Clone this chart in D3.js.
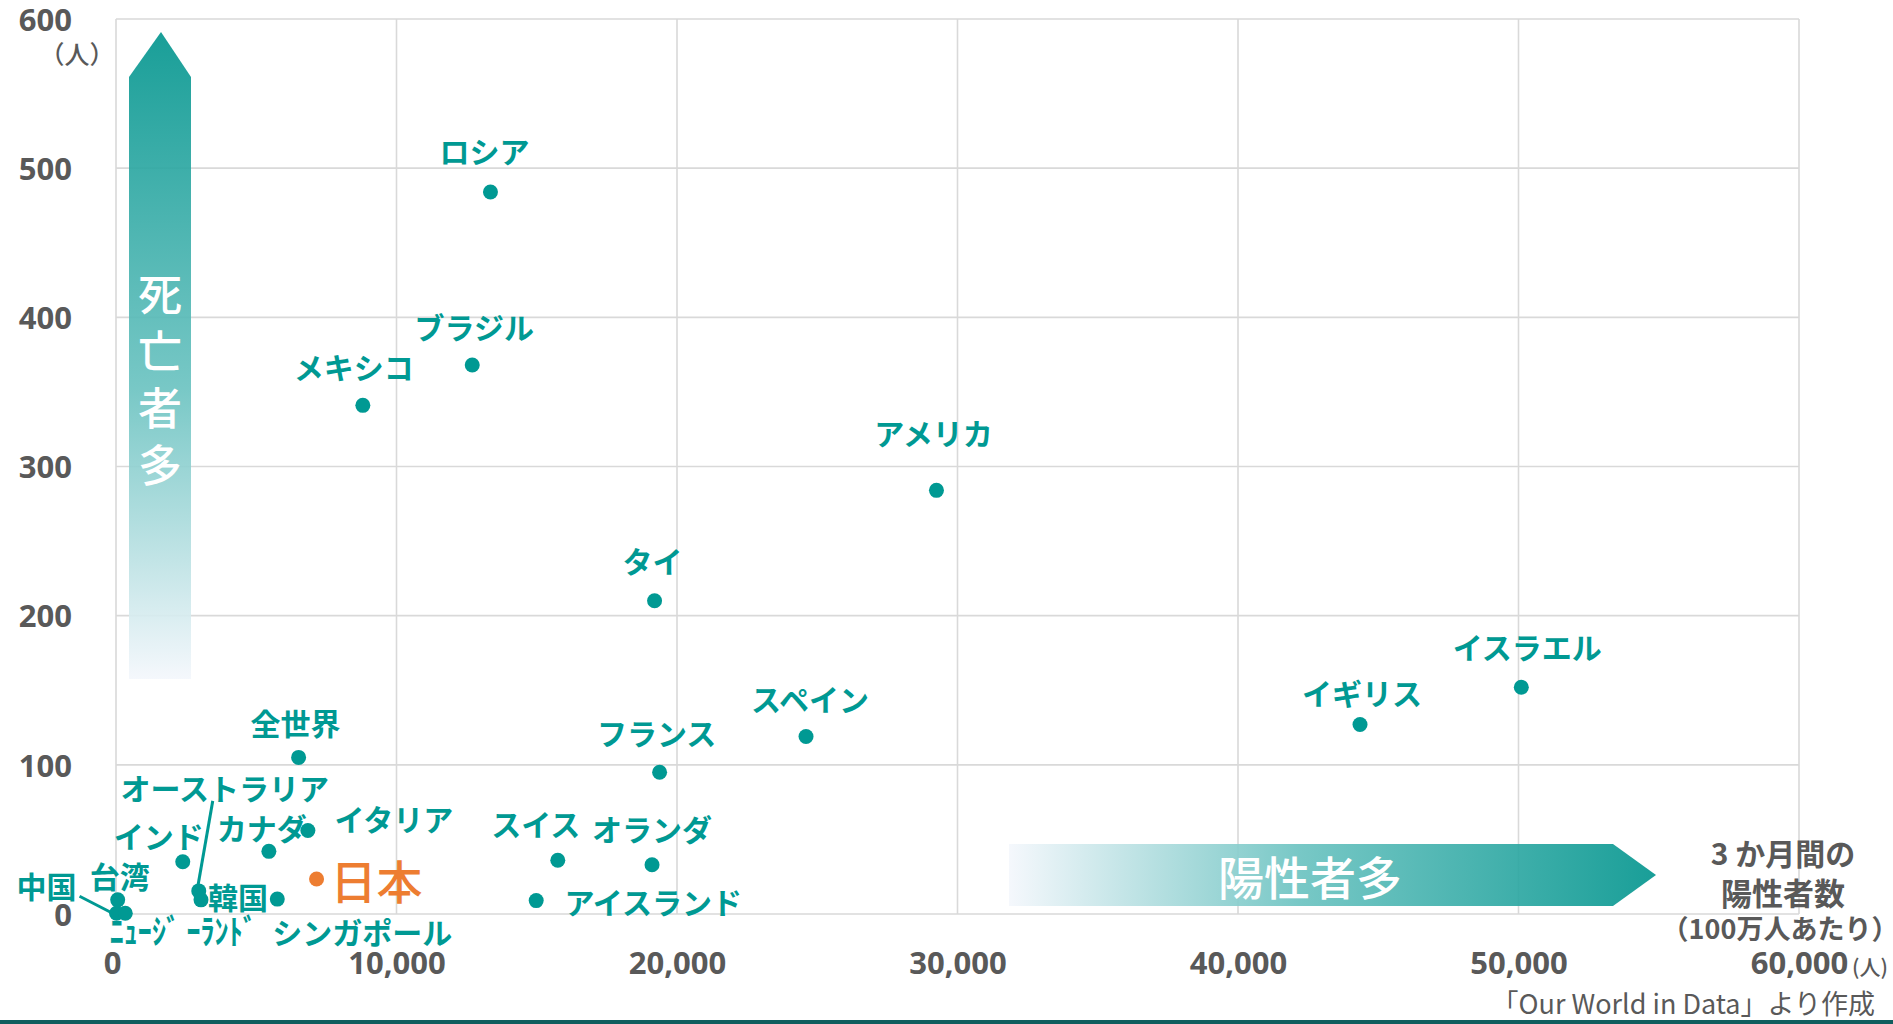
<!DOCTYPE html>
<html>
<head>
<meta charset="utf-8">
<script src="https://cdn.jsdelivr.net/npm/d3@7"></script>
<style>
  body { margin: 0; background: #fff; }
  svg { display: block; }
</style>
</head>
<body>
<svg id="chart" width="1893" height="1024"></svg>
<script>
// Positives and deaths per million over three months, by country
const countries = ["ロシア", "ブラジル", "メキシコ", "アメリカ", "タイ", "イスラエル", "イギリス", "スペイン",
  "フランス", "全世界", "イタリア", "カナダ", "インド", "スイス", "オランダ", "アイスランド", "日本",
  "シンガポール", "オーストラリア", "韓国", "中国", "台湾", "ﾆｭｰｼﾞ ｰﾗﾝﾄﾞ"];
const positives = [13350, 12700, 8800, 29250, 19200, 50100, 44350, 24600,
  19380, 6510, 6840, 5450, 2380, 15750, 19110, 14980, 7150,
  5750, 2950, 3030, 20, 60, 330];
const deaths = [484, 368, 341, 284, 210, 152, 127, 119,
  95, 105, 56, 42, 35, 36, 33, 9, 23.5,
  10, 15.5, 9.5, 0.5, 9.5, 0.5];
const highlight = "日本";

const xTicks = [0, 10000, 20000, 30000, 40000, 50000, 60000];
const yTicks = [0, 100, 200, 300, 400, 500, 600];

// Label placement relative to each dot
const labelLayout = {
  "ロシア": { dx: -6, dy: -42 },
  "ブラジル": { dx: 2, dy: -39 },
  "メキシコ": { dx: -9, dy: -39 },
  "アメリカ": { dx: -3, dy: -58 },
  "タイ": { dx: -2, dy: -41 },
  "イスラエル": { dx: 6, dy: -41 },
  "イギリス": { dx: 2, dy: -33 },
  "スペイン": { dx: 4, dy: -38 },
  "フランス": { dx: -3, dy: -40 },
  "全世界": { dx: -3, dy: -35 },
  "イタリア": { dx: 86, dy: -12 },
  "カナダ": { dx: -7, dy: -24 },
  "インド": { dx: -24, dy: -27 },
  "スイス": { dx: -22, dy: -37 },
  "オランダ": { dx: 0, dy: -37 },
  "アイスランド": { dx: 117, dy: 0 },
  "日本": { dx: 14, dy: 0, anchor: "start" },
  "シンガポール": { dx: 85, dy: 32 },
  "オーストラリア": { dx: 26, dy: -104, leader: [14, -90, -1, -4] },
  "韓国": { dx: 37, dy: -4 },
  "中国": { dx: -70, dy: -28, leader: [-37, -17, -4, 0] },
  "台湾": { dx: 2, dy: -25 },
  "ﾆｭｰｼﾞ ｰﾗﾝﾄﾞ": { dx: 58, dy: 16, fit: 147, size: 34 }
};

const TEAL = "#009993";
const ORANGE = "#ED7D31";
const GRAY = "#595959";
const GRID = "#D9D9D9";

const svg = d3.select("#chart");
const x = d3.scaleLinear().domain([0, 60000]).range([116, 1799]);
const y = d3.scaleLinear().domain([0, 600]).range([914, 19]);

const defs = svg.append("defs");
const gv = defs.append("linearGradient").attr("id", "gradUp")
  .attr("x1", 0).attr("y1", 1).attr("x2", 0).attr("y2", 0);
gv.append("stop").attr("offset", 0).attr("stop-color", "#F4F7FC");
gv.append("stop").attr("offset", 0.45).attr("stop-color", "#6CC3C1");
gv.append("stop").attr("offset", 1).attr("stop-color", "#05968F");
const gh = defs.append("linearGradient").attr("id", "gradRight")
  .attr("x1", 0).attr("y1", 0).attr("x2", 1).attr("y2", 0);
gh.append("stop").attr("offset", 0).attr("stop-color", "#F4F7FC");
gh.append("stop").attr("offset", 0.45).attr("stop-color", "#6CC3C1");
gh.append("stop").attr("offset", 1).attr("stop-color", "#05968F");

// Grid
const grid = svg.append("g");
grid.selectAll("line.v").data(xTicks).join("line")
  .attr("x1", d => x(d)).attr("x2", d => x(d))
  .attr("y1", y(0)).attr("y2", y(600))
  .attr("stroke", GRID).attr("stroke-width", 1.6);
grid.selectAll("line.h").data(yTicks).join("line")
  .attr("x1", x(0)).attr("x2", x(60000))
  .attr("y1", d => y(d)).attr("y2", d => y(d))
  .attr("stroke", GRID).attr("stroke-width", 1.6);

// Direction arrows
svg.append("path")
  .attr("d", "M129,679 L129,77 L161,32 L191,77 L191,679 Z")
  .attr("fill", "url(#gradUp)").attr("opacity", 0.92);
["死", "亡", "者", "多"].forEach((c, i) => {
  svg.append("text").attr("x", 160).attr("y", 292 + i * 57)
    .attr("text-anchor", "middle").attr("dominant-baseline", "central")
    .attr("font-family", "Noto Sans CJK JP").attr("font-size", 44).attr("font-weight", 500)
    .attr("fill", "#fff").text(c);
});
svg.append("path")
  .attr("d", "M1009,844 L1613,844 L1656,875 L1613,906 L1009,906 Z")
  .attr("fill", "url(#gradRight)").attr("opacity", 0.92);
svg.append("text").attr("x", 1310).attr("y", 875)
  .attr("text-anchor", "middle").attr("dominant-baseline", "central")
  .attr("font-family", "Noto Sans CJK JP").attr("font-size", 46).attr("font-weight", 500)
  .attr("fill", "#fff").text("陽性者多");

// Axes (labels only; grid drawn above)
const yAxis = svg.append("g").attr("transform", `translate(${x(0)},0)`)
  .call(d3.axisLeft(y).tickValues(yTicks).tickSize(0).tickPadding(44).tickFormat(d3.format("d")));
const xAxis = svg.append("g").attr("transform", `translate(0,${y(0)})`)
  .call(d3.axisBottom(x).tickValues(xTicks).tickSize(0).tickPadding(0).tickFormat(d3.format(",")));
[yAxis, xAxis].forEach(g => {
  g.select(".domain").remove();
  g.selectAll("text").attr("font-family", "Open Sans").attr("font-size", 31)
    .attr("font-weight", 700).attr("fill", GRAY);
});
yAxis.selectAll("text").attr("dy", "0.36em");
xAxis.selectAll("text").attr("y", 49).attr("dy", "0.36em");
xAxis.selectAll("text").filter(d => d === 0).attr("dx", -4);

const small = (t, px, py, size, anchor, weight) => svg.append("text")
  .attr("x", px).attr("y", py).attr("text-anchor", anchor).attr("dominant-baseline", "central")
  .attr("font-family", "Noto Sans CJK JP").attr("font-size", size).attr("font-weight", weight)
  .attr("fill", GRAY).text(t);
small("（人）", 77, 53, 25, "middle", 500);
small("(人)", 1870, 966, 21, "middle", 500);
small("3 か月間の", 1783, 852, 30, "middle", 700);
small("陽性者数", 1783, 891, 31, "middle", 700);
small("（100万人あたり）", 1780, 927, 27, "middle", 700);
small("「Our World in Data」より作成", 1875, 1002, 27, "end", 400);

// Bottom rule
svg.append("rect").attr("x", 0).attr("y", 1020).attr("width", 1893).attr("height", 4).attr("fill", "#0F5E5E");

// Points
const points = countries.map((name, i) => ({ name, px: positives[i], dd: deaths[i] }));

svg.append("g").selectAll("line").data(points.filter(p => labelLayout[p.name].leader)).join("line")
  .attr("x1", p => x(p.px) + labelLayout[p.name].leader[0])
  .attr("y1", p => y(p.dd) + labelLayout[p.name].leader[1])
  .attr("x2", p => x(p.px) + labelLayout[p.name].leader[2])
  .attr("y2", p => y(p.dd) + labelLayout[p.name].leader[3])
  .attr("stroke", TEAL).attr("stroke-width", 3);

svg.append("g").selectAll("circle").data(points).join("circle")
  .attr("cx", p => x(p.px)).attr("cy", p => y(p.dd)).attr("r", 7.5)
  .attr("fill", p => p.name === highlight ? ORANGE : TEAL);

svg.append("g").selectAll("text").data(points).join("text")
  .attr("x", p => x(p.px) + labelLayout[p.name].dx)
  .attr("y", p => y(p.dd) + labelLayout[p.name].dy)
  .attr("text-anchor", p => labelLayout[p.name].anchor || "middle")
  .attr("dominant-baseline", "central")
  .attr("font-family", "Noto Sans CJK JP")
  .attr("font-size", p => p.name === highlight ? 46 : (labelLayout[p.name].size || 30))
  .attr("font-weight", p => p.name === highlight ? 500 : 700)
  .attr("fill", p => p.name === highlight ? ORANGE : TEAL)
  .each(function (p) {
    const f = labelLayout[p.name].fit;
    if (f) d3.select(this).attr("textLength", f).attr("lengthAdjust", "spacingAndGlyphs");
  })
  .text(p => p.name);
</script>
</body>
</html>
